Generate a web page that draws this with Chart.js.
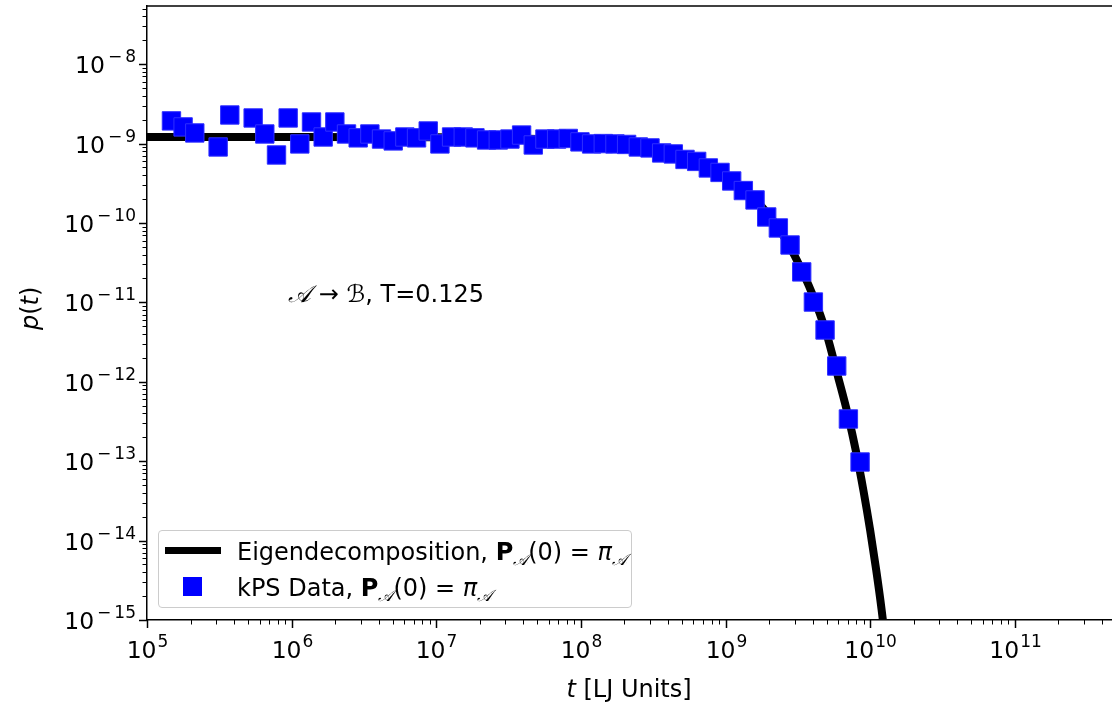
<!DOCTYPE html>
<html>
<head>
<meta charset="utf-8">
<script src="https://cdn.jsdelivr.net/npm/chart.js@4/dist/chart.umd.min.js"></script>
<style>
  body { margin: 0; background: #fff; }
  #wrap { position: relative; width: 1112px; height: 706px; font-family: "DejaVu Sans", sans-serif; color: #000; }
  .txt { position: absolute; font-size: 24px; white-space: nowrap; line-height: 1; }
  .cal { font-family: "DejaVu Serif", "DejaVu Sans", serif; font-style: italic; }
  .calb { font-family: "DejaVu Sans", sans-serif; font-style: italic; }
  sub { font-size: 16px; vertical-align: -5px; line-height: 0; }
  #legend { position: absolute; left: 158px; top: 530px; width: 472px; height: 76px;
            border: 1.5px solid #cccccc; border-radius: 4px; background: rgba(255,255,255,0.8); }
</style>
</head>
<body>
<div id="wrap">
  <canvas id="chart"></canvas>
  <div class="txt" style="left:18px; top:318px; transform: translate(0,-50%) rotate(-90deg); transform-origin: 12px 50%;"><i>p</i>(<i>t</i>)</div>
  <div class="txt" style="left:629px; top:677px; transform: translateX(-50%);"><i>t</i> [LJ Units]</div>
  <div class="txt" style="left:288px; top:282px;"><span class="cal">𝒜</span> → <span class="calb">ℬ</span>, T=0.125</div>
  <div id="legend">
    <div style="position:absolute; left:6px; top:16px; width:56px; height:7px; background:#000;"></div>
    <div style="position:absolute; left:24px; top:46px; width:19px; height:19px; background:#0000ff;"></div>
    <div class="txt" style="left:78px; top:9px;">Eigendecomposition, <b>P</b><sub class="cal">𝒜</sub>(0) = <i>π</i><sub class="cal">𝒜</sub></div>
    <div class="txt" style="left:78px; top:45px;">kPS Data, <b>P</b><sub class="cal">𝒜</sub>(0) = <i>π</i><sub class="cal">𝒜</sub></div>
  </div>
</div>
<script>
// kPS data
const kpsT = [1.476e5, 1.777e5, 2.140e5, 3.103e5, 3.737e5, 5.420e5, 6.524e5, 7.859e5, 9.462e5, 1.139e6,
  1.372e6, 1.652e6, 1.990e6, 2.396e6, 2.885e6, 3.475e6, 4.184e6, 5.039e6, 6.067e6, 7.306e6,
  8.799e6, 1.060e7, 1.276e7, 1.537e7, 1.851e7, 2.228e7, 2.684e7, 3.231e7, 3.890e7, 4.686e7,
  5.642e7, 6.795e7, 8.181e7, 9.851e7, 1.186e8, 1.428e8, 1.720e8, 2.071e8, 2.495e8, 3.004e8,
  3.617e8, 4.356e8, 5.246e8, 6.317e8, 7.606e8, 9.161e8, 1.103e9, 1.328e9, 1.600e9, 1.926e9,
  2.319e9, 2.793e9, 3.363e9, 4.050e9, 4.877e9, 5.873e9, 7.072e9, 8.517e9];
const kpsP = [1.93e-9, 1.62e-9, 1.36e-9, 9.06e-10, 2.29e-9, 2.10e-9, 1.32e-9, 7.18e-10, 2.10e-9, 9.89e-10,
  1.87e-9, 1.21e-9, 1.87e-9, 1.32e-9, 1.18e-9, 1.32e-9, 1.14e-9, 1.08e-9, 1.21e-9, 1.18e-9,
  1.44e-9, 9.89e-10, 1.21e-9, 1.21e-9, 1.18e-9, 1.11e-9, 1.11e-9, 1.14e-9, 1.28e-9, 9.6e-10,
  1.14e-9, 1.14e-9, 1.16e-9, 1.05e-9, 9.89e-10, 1.00e-9, 9.89e-10, 9.75e-10, 9.06e-10, 8.81e-10,
  7.62e-10, 7.40e-10, 6.31e-10, 5.96e-10, 4.93e-10, 4.33e-10, 3.38e-10, 2.56e-10, 1.95e-10, 1.19e-10,
  8.65e-11, 5.28e-11, 2.42e-11, 1.01e-11, 4.49e-12, 1.58e-12, 3.40e-13, 9.77e-14];

// eigendecomposition curve
const eigT = [1e5, 1e6, 1e7, 3e7, 1e8, 2e8, 4e8, 6e8, 8e8, 1e9, 1.5e9, 2e9, 2.5e9, 3e9,
  4e9, 5e9, 6e9, 7e9, 8e9, 9e9, 1e10, 1.1e10, 1.2e10, 1.3e10];
const eigP = [1.21e-9, 1.21e-9, 1.20e-9, 1.17e-9, 1.09e-9, 9.7e-10, 7.8e-10, 6.2e-10, 4.9e-10, 3.9e-10,
  2.2e-10, 1.25e-10, 7.0e-11, 3.9e-11, 1.25e-11, 4.0e-12, 1.15e-12, 3.9e-13, 1.3e-13, 4.2e-14,
  1.35e-14, 4.3e-15, 1.35e-15, 4e-16];

// axis ranges
const xRange = [1e5, 4.7e11];
const yRange = [1e-15, 5.4e-8];

function decade(v) {
  const e = Math.log10(v);
  return Math.abs(e - Math.round(e)) < 1e-6 ? Math.round(e) : null;
}
function isIntSignificand(v) {
  const m = v / Math.pow(10, Math.floor(Math.log10(v) + 1e-9));
  return Math.abs(m - Math.round(m)) < 1e-6;
}

// draws "10" with a raised exponent, like matplotlib's mathtext labels
function drawPow(ctx, e, x, baseline, align) {
  const base = '23.5px "DejaVu Sans"', sup = '17px "DejaVu Sans"';
  ctx.font = base;
  const w10 = ctx.measureText('10').width;
  ctx.font = sup;
  const digits = String(Math.abs(e));
  const wMinus = e < 0 ? ctx.measureText('\u2212').width + 5 : 0;
  const wDig = ctx.measureText(digits).width;
  const total = w10 + 1 + wMinus + wDig;
  let x0 = align === 'right' ? x - total : x - total / 2;
  ctx.textAlign = 'left';
  ctx.textBaseline = 'alphabetic';
  ctx.font = base;
  ctx.fillText('10', x0, baseline);
  ctx.font = sup;
  let xs = x0 + w10 + 1;
  if (e < 0) { ctx.fillText('\u2212', xs + 2, baseline - 11); xs += wMinus; }
  ctx.fillText(digits, xs, baseline - 11);
}

// matplotlib-style ticks (major long, minor short), tick labels and top spine
const axesPlugin = {
  id: 'mplAxes',
  afterDraw(chart) {
    const ctx = chart.ctx, area = chart.chartArea;
    ctx.save();
    ctx.strokeStyle = '#000';
    ctx.fillStyle = '#000';
    const xs = chart.scales.x, ys = chart.scales.y;
    xs.ticks.forEach(t => {
      if (!isIntSignificand(t.value)) return;
      const e = decade(t.value);
      const px = Math.round(xs.getPixelForValue(t.value)) + 0.5;
      ctx.lineWidth = e !== null ? 1.5 : 1;
      ctx.beginPath();
      ctx.moveTo(px, area.bottom);
      ctx.lineTo(px, area.bottom + (e !== null ? 8 : 4.5));
      ctx.stroke();
      if (e !== null) drawPow(ctx, e, px, area.bottom + 38, 'center');
    });
    ys.ticks.forEach(t => {
      if (!isIntSignificand(t.value)) return;
      const e = decade(t.value);
      const py = Math.round(ys.getPixelForValue(t.value)) + 0.5;
      ctx.lineWidth = e !== null ? 1.5 : 1;
      ctx.beginPath();
      ctx.moveTo(area.left, py);
      ctx.lineTo(area.left - (e !== null ? 8 : 4.5), py);
      ctx.stroke();
      if (e !== null) drawPow(ctx, e, area.left - 11, py + 8.5, 'right');
    });
    ctx.lineWidth = 1.5;
    ctx.beginPath();
    ctx.moveTo(area.left, area.top);
    ctx.lineTo(area.right, area.top);
    ctx.stroke();
    ctx.restore();
  }
};

function fixBox(w, h) {
  return s => {
    if (w) s.width = w;
    if (h) s.height = h;
    s.paddingTop = 0; s.paddingBottom = 0; s.paddingLeft = 0; s.paddingRight = 0;
  };
}

new Chart(document.getElementById('chart'), {
  type: 'line',
  data: {
    datasets: [
      {
        label: 'kPS Data',
        data: kpsT.map((t, i) => ({ x: t, y: kpsP[i] })),
        showLine: false,
        pointStyle: 'rect',
        pointRadius: 13,
        pointHoverRadius: 13,
        backgroundColor: '#0000ff',
        borderColor: '#2f2fff',
        borderWidth: 1,
        order: 0
      },
      {
        label: 'Eigendecomposition',
        data: eigT.map((t, i) => ({ x: t, y: eigP[i] })),
        borderColor: '#000',
        borderWidth: 8,
        pointRadius: 0,
        cubicInterpolationMode: 'monotone',
        order: 1
      }
    ]
  },
  options: {
    responsive: true,
    maintainAspectRatio: false,
    animation: false,
    layout: { autoPadding: false, padding: { top: 6, right: 0, left: 0, bottom: 0 } },
    plugins: { legend: { display: false }, tooltip: { enabled: false } },
    scales: {
      x: {
        type: 'logarithmic',
        min: xRange[0],
        max: xRange[1],
        grid: { drawOnChartArea: false, drawTicks: false },
        border: { display: true, color: '#000', width: 1.5 },
        ticks: { display: false, autoSkip: false },
        afterFit: fixBox(0, 86)
      },
      y: {
        type: 'logarithmic',
        min: yRange[0],
        max: yRange[1],
        grid: { drawOnChartArea: false, drawTicks: false },
        border: { display: true, color: '#000', width: 1.5 },
        ticks: { display: false, autoSkip: false },
        afterFit: fixBox(147, 0)
      }
    }
  },
  plugins: [axesPlugin]
});
</script>
</body>
</html>
